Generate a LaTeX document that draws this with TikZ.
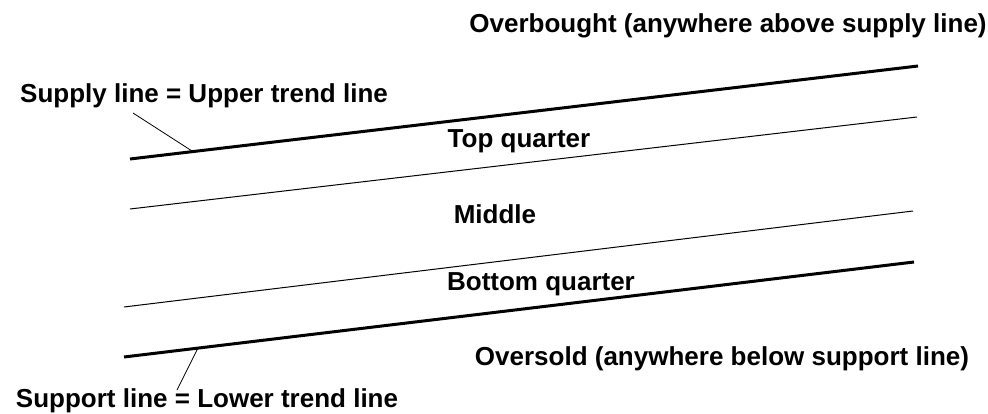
\documentclass[tikz,border=0pt]{standalone}
\usepackage{fontspec}
\setmainfont{Liberation Sans}
\begin{document}
\begin{tikzpicture}[x=1pt, y=-1pt, line width=1pt]
  \tikzset{lbl/.style={font=\bfseries\fontsize{26}{30}\selectfont, inner sep=0pt, anchor=base}}
  \useasboundingbox (0,0) rectangle (988,414);
  % channel lines
  \coordinate (S1) at (130,159);
  \coordinate (S2) at (918,66);
  \coordinate (T1) at (130,209);
  \coordinate (T2) at (917,117);
  \coordinate (B1) at (124,307);
  \coordinate (B2) at (913,211);
  \coordinate (P1) at (124,357);
  \coordinate (P2) at (914,262);
  \draw[line width=3pt] (S1) -- (S2);
  \draw (T1) -- (T2);
  \draw (B1) -- (B2);
  \draw[line width=3pt] (P1) -- (P2);
  % zone labels
  \node[lbl] (over) at (728,33) {Overbought (anywhere above supply line)};
  \node[lbl] (top) at (519,148) {Top quarter};
  \node[lbl] (mid) at (495,224) {Middle};
  \node[lbl] (bot) at (541,290) {Bottom quarter};
  \node[lbl] (under) at (722,365) {Oversold (anywhere below support line)};
  % trend line labels and leaders
  \node[lbl] (supply) at (204,103) {Supply line = Upper trend line};
  \node[lbl] (support) at (207,407) {Support line = Lower trend line};
  \coordinate (sa) at (133,113);
  \coordinate (sb) at (192,151);
  \coordinate (pa) at (198,348);
  \coordinate (pb) at (177,390);
  \draw[line width=0.8pt] (sa) -- (sb);
  \draw[line width=0.8pt] (pa) -- (pb);
\end{tikzpicture}
\end{document}
